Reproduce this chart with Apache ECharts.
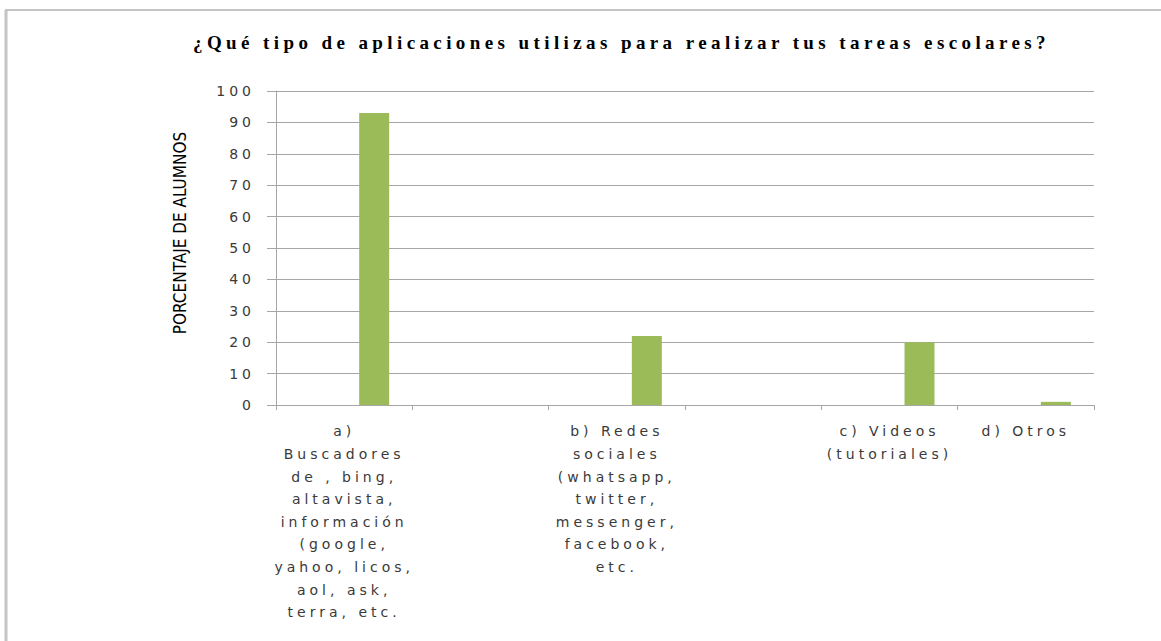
<!DOCTYPE html>
<html>
<head>
<meta charset="utf-8">
<script src="https://cdn.jsdelivr.net/npm/echarts@6/dist/echarts.min.js"></script>
<style>
  html, body { margin: 0; padding: 0; background: #fff; }
  #chart { width: 1161px; height: 641px; }
  /* el original tiene las letras muy separadas */
  #chart text { letter-spacing: 4px; }
  #chart text[style*="Serif"] { letter-spacing: 4.4px; }
  #chart text[style*="Narrow"] { letter-spacing: 0; }
</style>
</head>
<body>
<div id="chart"></div>
<script>
  // categorias (las vacias son huecos del grafico original)
  var categories = [
    'a)\nBuscadores\nde , bing,\naltavista,\ninformación\n(google,\nyahoo, licos,\naol, ask,\nterra, etc.',
    '',
    'b) Redes\nsociales\n(whatsapp,\ntwitter,\nmessenger,\nfacebook,\netc.',
    '',
    'c) Videos\n(tutoriales)',
    'd) Otros'
  ];
  var emptySeries = [null, null, null, null, null, null];
  var alumnos = [93, null, 22, null, 20, 1];
  var yTicks = { min: 0, max: 100, interval: 10 };

  var chart = echarts.init(document.getElementById('chart'), null, { renderer: 'svg' });
  chart.setOption({
    backgroundColor: '#fff',
    animation: false,
    title: {
      text: '¿Qué tipo de aplicaciones utilizas para realizar tus tareas escolares?',
      left: 188,
      top: 28,
      textStyle: {
        fontFamily: 'Liberation Serif',
        fontWeight: 'bold',
        fontSize: 19,
        color: '#000'
      }
    },
    graphic: [
      { type: 'line', shape: { x1: 5, y1: 10, x2: 1161, y2: 10 }, style: { stroke: '#c4c4c4', lineWidth: 2 } },
      { type: 'line', shape: { x1: 6, y1: 10, x2: 6, y2: 641 }, style: { stroke: '#c4c4c4', lineWidth: 3 } }
    ],
    grid: {
      left: 276,
      right: 67,
      top: 91,
      bottom: 236
    },
    xAxis: {
      type: 'category',
      data: categories,
      axisLine: { lineStyle: { color: '#a6a6a6', width: 1 } },
      axisTick: { show: true, length: 5, lineStyle: { color: '#a6a6a6' } },
      axisLabel: {
        interval: 0,
        margin: 15,
        fontFamily: 'DejaVu Sans',
        fontSize: 14,
        lineHeight: 22.6,
        color: '#3a3a3a',
        align: 'center'
      }
    },
    yAxis: {
      type: 'value',
      min: yTicks.min,
      max: yTicks.max,
      interval: yTicks.interval,
      name: 'PORCENTAJE DE ALUMNOS',
      nameLocation: 'middle',
      nameGap: 88,
      nameRotate: 90,
      nameTextStyle: {
        fontFamily: "'Liberation Sans Narrow', 'DejaVu Sans Condensed', Roboto, sans-serif",
        fontSize: 17,
        color: '#000',
        padding: [0, 0, 0, 30]
      },
      axisLine: { show: true, lineStyle: { color: '#a6a6a6' } },
      axisTick: { show: true, length: 9, lineStyle: { color: '#a6a6a6' } },
      axisLabel: {
        margin: 21,
        fontFamily: 'DejaVu Sans',
        fontSize: 14,
        color: '#3a3a3a'
      },
      splitLine: { show: true, lineStyle: { color: '#a6a6a6', width: 1 } }
    },
    series: [
      {
        name: 'vacía',
        type: 'bar',
        barWidth: 30,
        barGap: '100%',
        data: emptySeries
      },
      {
        name: 'alumnos',
        type: 'bar',
        barWidth: 30,
        barGap: '100%',
        itemStyle: { color: '#9bbb59' },
        data: alumnos
      }
    ]
  });
</script>
</body>
</html>
